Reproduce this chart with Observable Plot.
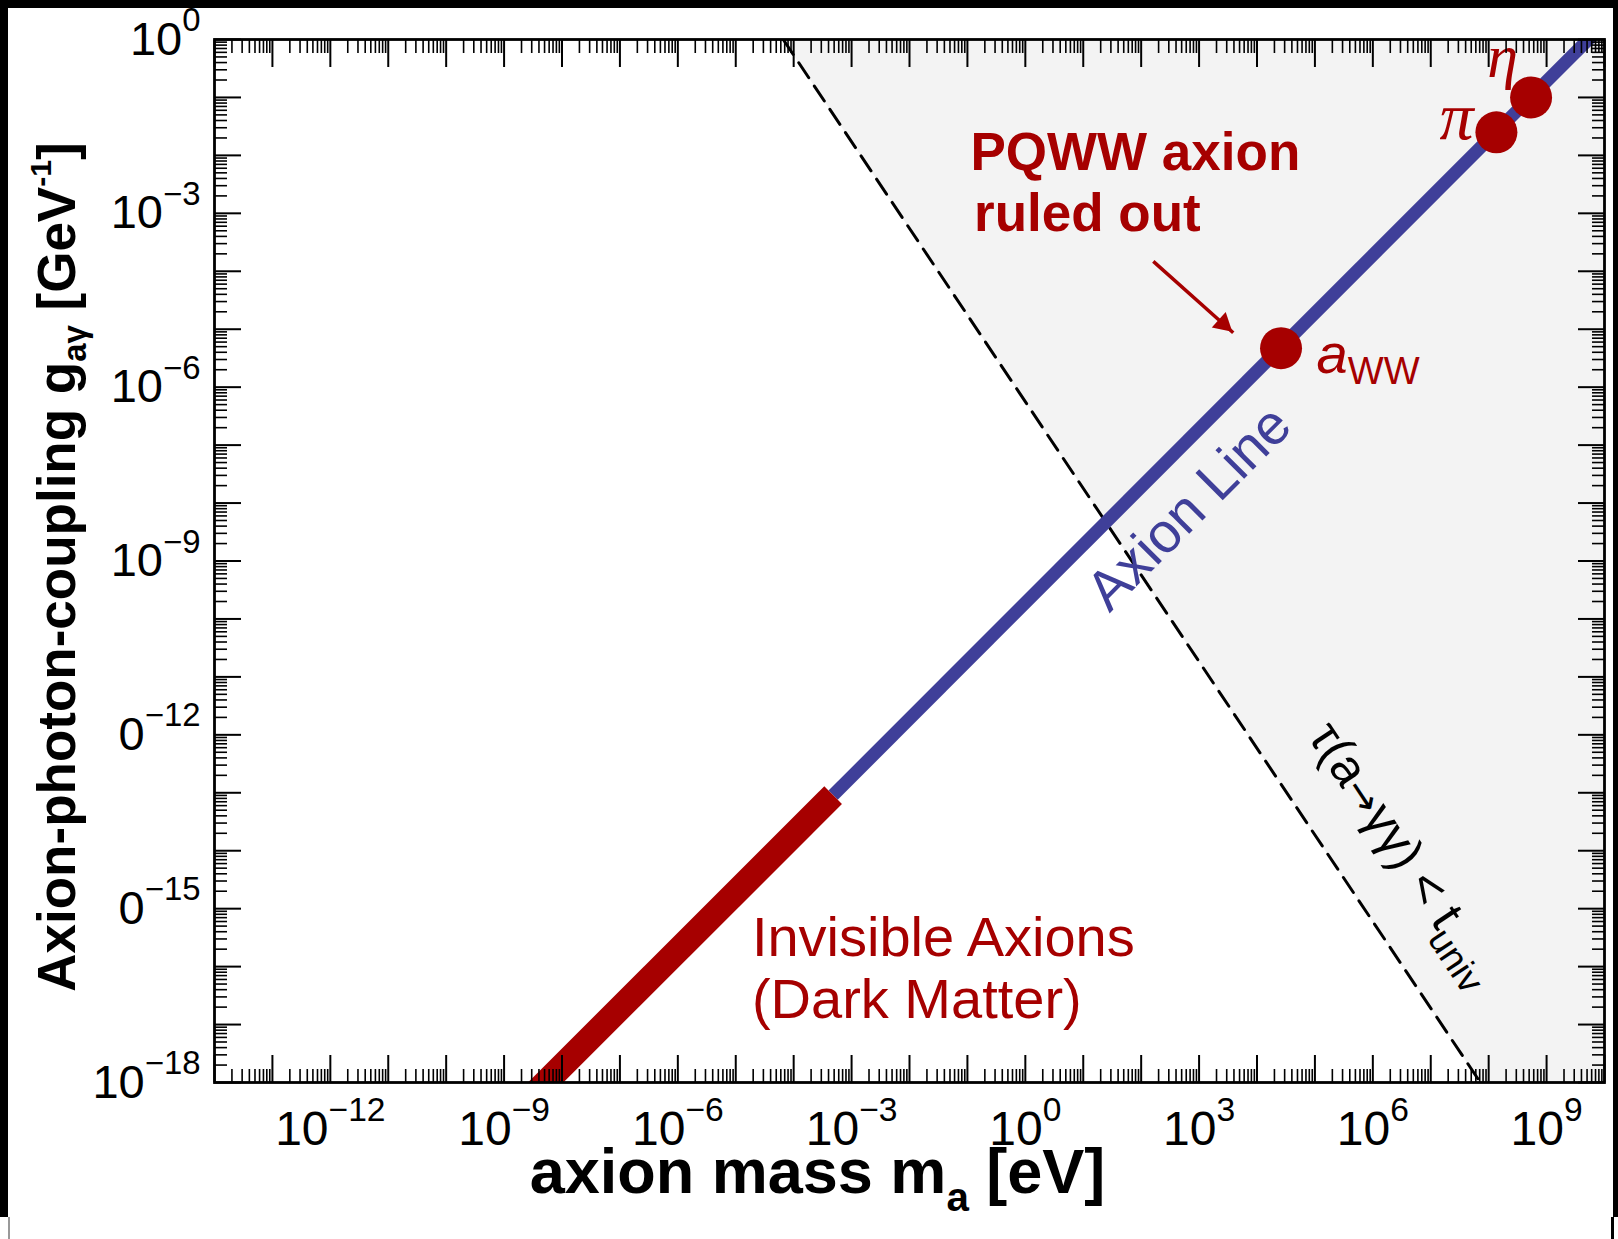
<!DOCTYPE html>
<html><head><meta charset="utf-8">
<script src="https://cdn.jsdelivr.net/npm/d3@7"></script>
<script src="https://cdn.jsdelivr.net/npm/@observablehq/plot@0.6"></script>
<style>
html,body{margin:0;padding:0;background:#fff;width:1618px;height:1239px;overflow:hidden;position:relative;}
#chart{position:absolute;left:0;top:0;}
.bar{position:absolute;background:#000;}
</style></head><body>
<div id="chart"></div>
<div class="bar" style="left:0;top:0;width:1618px;height:8px"></div>
<div class="bar" style="left:0;top:0;width:8px;height:1217px"></div>
<div class="bar" style="left:1613px;top:0;width:5px;height:1217px"></div>
<div class="bar" style="left:8px;top:1217px;width:2px;height:22px;background:#999"></div>
<div class="bar" style="left:1611px;top:1217px;width:3px;height:22px"></div>
<script>
// ---------------- data ----------------
const xDomain = [1e-14, 1e10];
const yDomain = [1e-18, 1];

const xLabelValues = [1e-12, 1e-9, 1e-6, 1e-3, 1, 1e3, 1e6, 1e9];
const xLabelBases  = ["10", "10", "10", "10", "10", "10", "10", "10"];
const xLabelExps   = ["−12", "−9", "−6", "−3", "0", "3", "6", "9"];

const yLabelValues = [1, 1e-3, 1e-6, 1e-9, 1e-12, 1e-15, 1e-18];
const yLabelBases  = ["10", "10", "10", "10", "0", "0", "10"];
const yLabelExps   = ["0", "−3", "−6", "−9", "−12", "−15", "−18"];

// invisible axions (dark matter) segment and the axion line
const invisibleMass     = [2.5e-9, 4.8e-4];
const invisibleCoupling = [4.8e-19, 9.1e-14];
const axionLineMass     = [4.8e-4, 1e10];
const axionLineCoupling = [9.1e-14, 1.9];

// lifetime bound tau(a->gg) < t_univ
const lifetimeMass     = [6.6e-5, 7.2e7];
const lifetimeCoupling = [1, 1e-18];

// particles on the axion line
const particleNames    = ["aWW", "π", "η"];
const particleMass     = [2.6e4, 1.36e8, 5.4e8];
const particleCoupling = [4.7e-6, 2.5e-2, 1.0e-1];

// annotation texts
const noteTexts = ["PQWW axion", "ruled out", "Invisible Axions", "(Dark Matter)"];
const noteMass  = [0.113, 0.13, 1.9e-5, 1.9e-5];
const noteCoupl = [5.5e-3, 4.9e-4, 1.55e-16, 1.32e-17];

const arrowFrom = [162, 1.48e-4];
const arrowTo   = [3890, 8.7e-6];

const RED = "#a60000", BLUE = "#3f3f99", SHADE = "#f3f3f3";
const SANS = "'Liberation Sans', Arial, Helvetica, sans-serif";
const SERIF = "'Liberation Serif', 'Times New Roman', serif";

// ---------------- derived tables ----------------
const decades = (a, b) => d3.range(a, b + 1).map(e => Math.pow(10, e));
const minorOf = (a, b) => d3.range(a, b).flatMap(e => d3.range(2, 10).map(k => k * Math.pow(10, e)));
const xMajor = decades(-14, 10), xMinor = minorOf(-14, 10);
const yMajor = decades(-18, 0),  yMinor = minorOf(-18, 0);

const xLabels = xLabelValues.map((v, i) => ({v, t: `${xLabelBases[i]}^{${xLabelExps[i]}}`}));
const yLabels = yLabelValues.map((v, i) => ({v, t: `${yLabelBases[i]}^{${yLabelExps[i]}}`}));
const redSeg  = invisibleMass.map((m, i) => ({m, g: invisibleCoupling[i]}));
const blueSeg = axionLineMass.map((m, i) => ({m, g: axionLineCoupling[i]}));
const lifeSeg = lifetimeMass.map((m, i) => ({m, g: lifetimeCoupling[i], m2: xDomain[1]}));
const particles = particleNames.map((n, i) => ({n, m: particleMass[i], g: particleCoupling[i]}));
const notes = noteTexts.map((t, i) => ({t, m: noteMass[i], g: noteCoupl[i]}));
const arrowRow = [{m1: arrowFrom[0], g1: arrowFrom[1], m2: arrowTo[0], g2: arrowTo[1]}];

const tickOpts = {tickFormat: () => "", label: null, stroke: "black"};

const chart = Plot.plot({
  width: 1618, height: 1239,
  marginLeft: 214, marginRight: 14, marginTop: 39, marginBottom: 157,
  style: {background: "white", fontFamily: SANS, color: "black"},
  x: {type: "log", domain: xDomain},
  y: {type: "log", domain: yDomain},
  marks: [
    Plot.areaX(lifeSeg, {y: "g", x1: "m", x2: "m2", fill: SHADE}),
    Plot.line(lifeSeg, {x: "m", y: "g", stroke: "black", strokeWidth: 3, strokeDasharray: "18,10", clip: true}),
    Plot.line(blueSeg, {x: "m", y: "g", stroke: BLUE, strokeWidth: 13, strokeLinecap: "butt", clip: true}),
    Plot.line(redSeg, {x: "m", y: "g", stroke: RED, strokeWidth: 25, strokeLinecap: "butt", clip: true}),
    Plot.dot(particles, {x: "m", y: "g", r: 21, fill: RED}),
    Plot.link(arrowRow, {x1: "m1", y1: "g1", x2: "m2", y2: "g2", stroke: RED, strokeWidth: 3.5}),
    Plot.dot(arrowRow, {x: "m2", y: "g2", symbol: "triangle2", r: 10, fill: RED, stroke: "none",
      rotate: 131.6, dx: -10, dy: -9}),
    Plot.text(notes.slice(0, 2), {x: "m", y: "g", text: "t", fill: RED, fontSize: 53, fontWeight: "bold",
      textAnchor: "start", lineAnchor: "bottom"}),
    Plot.text(notes.slice(2), {x: "m", y: "g", text: "t", fill: RED, fontSize: 56,
      textAnchor: "start", lineAnchor: "bottom"}),
    Plot.text([{t: "~{a}_{WW}"}], {x: () => 1.07e5, y: () => 1.78e-6, text: "t", fill: RED, fontSize: 56,
      textAnchor: "start", lineAnchor: "bottom"}),
    Plot.text([{t: "π"}], {x: () => 2.8e7, y: () => 4.5e-2, text: "t", fill: RED, fontSize: 68,
      fontFamily: SERIF, fontStyle: "italic", textAnchor: "middle", lineAnchor: "middle"}),
    Plot.text([{t: "η"}], {x: () => 1.74e8, y: () => 0.5, text: "t", fill: RED, fontSize: 62,
      fontFamily: SERIF, fontStyle: "italic", textAnchor: "middle", lineAnchor: "middle"}),
    Plot.text([{t: "Axion Line"}], {x: () => 676, y: () => 8.1e-9, text: "t", fill: BLUE, fontSize: 56,
      rotate: -45, textAnchor: "middle", lineAnchor: "middle"}),
    Plot.text([{t: "τ(a@{→}γγ) < t_{univ}"}], {x: () => 3.5e6, y: () => 9.0e-15, text: "t", fill: "black", fontSize: 50,
      rotate: 56.3, textAnchor: "middle", lineAnchor: "middle"}),
    // frame + inward ticks
    Plot.frame({stroke: "black", strokeWidth: 2.8}),
    Plot.axisX(xMajor, {anchor: "bottom", tickSize: -27, strokeWidth: 2, ...tickOpts}),
    Plot.axisX(xMinor, {anchor: "bottom", tickSize: -13, strokeWidth: 1.6, ...tickOpts}),
    Plot.axisX(xMajor, {anchor: "top", tickSize: -27, strokeWidth: 2, ...tickOpts}),
    Plot.axisX(xMinor, {anchor: "top", tickSize: -13, strokeWidth: 1.6, ...tickOpts}),
    Plot.axisY(yMajor, {anchor: "left", tickSize: -27, strokeWidth: 2, ...tickOpts}),
    Plot.axisY(yMinor, {anchor: "left", tickSize: -13, strokeWidth: 1.6, ...tickOpts}),
    Plot.axisY(yMajor, {anchor: "right", tickSize: -27, strokeWidth: 2, ...tickOpts}),
    Plot.axisY(yMinor, {anchor: "right", tickSize: -13, strokeWidth: 1.6, ...tickOpts}),
    // tick labels
    Plot.text(xLabels, {x: "v", text: "t", frameAnchor: "bottom", dy: 28, lineAnchor: "top", textAnchor: "middle",
      fontSize: 48, fill: "black"}),
    Plot.text(yLabels, {y: "v", text: "t", frameAnchor: "left", dx: -14, textAnchor: "end", lineAnchor: "middle",
      fontSize: 47, fill: "black"}),
    // axis titles
    Plot.text([{t: "axion mass m_{a} [eV]"}], {text: "t", frameAnchor: "bottom", dx: -92, dy: 110, lineAnchor: "bottom",
      textAnchor: "middle", fontSize: 63, fontWeight: "bold", fill: "black"}),
    Plot.text([{t: "Axion-photon-coupling g_{aγ} [GeV^{-1}]"}], {text: "t", frameAnchor: "left", dx: -140, dy: 6,
      rotate: -90, textAnchor: "middle", lineAnchor: "bottom", fontSize: 53, fontWeight: "bold", fill: "black"})
  ]
});
document.getElementById("chart").appendChild(chart);

// ---- rich text: sub/superscripts, italics, symbol font ----
const NS = "http://www.w3.org/2000/svg";
function fontSizeOf(el) {
  let n = el;
  while (n && n.getAttribute) {
    const a = n.getAttribute("font-size");
    if (a) return parseFloat(a);
    n = n.parentNode;
  }
  return parseFloat(getComputedStyle(el).fontSize);
}
function configFor(raw) {
  if (/^1?0\^/.test(raw)) return {sup: [0.7, 0.5]};                // tick labels
  if (raw.includes("univ")) return {sub: [0.74, 0.26]};
  if (raw.includes("m_{a}")) return {sub: [0.64, 0.3]};
  if (raw.startsWith("~{a}")) return {sub: [0.68, 0.2]};
  return {};
}
function richify(el) {
  const raw = el.textContent;
  const re = /(_|\^|~|@)\{([^}]*)\}/g;
  if (!re.test(raw)) return;
  re.lastIndex = 0;
  const fs = fontSizeOf(el);
  const cfg = Object.assign({sub: [0.62, 0.22], sup: [0.57, 0.44]}, configFor(raw));
  const parts = []; let last = 0, m;
  while ((m = re.exec(raw))) {
    if (m.index > last) parts.push({t: raw.slice(last, m.index), k: ""});
    parts.push({t: m[2], k: m[1]}); last = re.lastIndex;
  }
  if (last < raw.length) parts.push({t: raw.slice(last), k: ""});
  el.textContent = "";
  let shift = 0;
  for (const p of parts) {
    const ts = document.createElementNS(NS, "tspan");
    let target = 0;
    if (p.k === "_") { target = cfg.sub[1] * fs; ts.setAttribute("font-size", cfg.sub[0] * fs); }
    else if (p.k === "^") { target = -cfg.sup[1] * fs; ts.setAttribute("font-size", cfg.sup[0] * fs); }
    else if (p.k === "~") { ts.setAttribute("font-style", "italic"); }
    else if (p.k === "@") { ts.setAttribute("font-family", "'DejaVu Sans', sans-serif"); ts.setAttribute("font-size", 0.8 * fs); }
    if (target - shift !== 0) ts.setAttribute("dy", target - shift);
    shift = target;
    ts.textContent = p.t;
    el.appendChild(ts);
  }
}
chart.querySelectorAll("text").forEach(richify);
</script>
</body></html>
